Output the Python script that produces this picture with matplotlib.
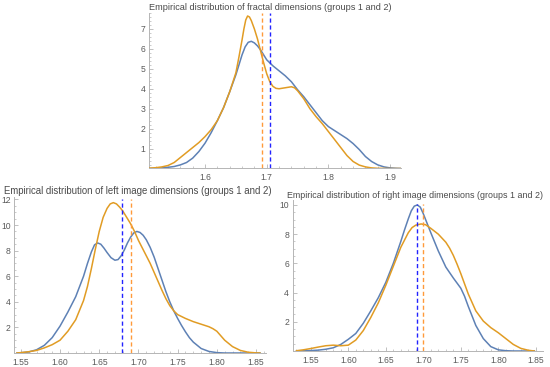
import matplotlib
matplotlib.use("Agg")
import matplotlib.pyplot as plt
from matplotlib.ticker import MultipleLocator, FixedLocator, FormatStrFormatter

plt.rcParams['font.family'] = ['Liberation Sans', 'DejaVu Sans']

# ---------------- data ----------------
# Top panel: fractal dimensions
top_x_blue = [1.51, 1.52, 1.53, 1.54, 1.55, 1.56, 1.57, 1.58, 1.59, 1.60, 1.61, 1.62, 1.63,
              1.64, 1.65, 1.655, 1.66, 1.665, 1.67, 1.675, 1.68, 1.685, 1.69, 1.695, 1.70,
              1.71, 1.72, 1.73, 1.74, 1.75, 1.76, 1.77, 1.78, 1.79, 1.80, 1.81, 1.82, 1.83,
              1.84, 1.85, 1.86, 1.87, 1.88, 1.89, 1.90, 1.91, 1.92]
top_blue = [0.0, 0.01, 0.03, 0.06, 0.1, 0.18, 0.3, 0.52, 0.85, 1.27, 1.8, 2.4, 3.05,
            3.85, 4.7, 5.2, 5.7, 6.1, 6.33, 6.38, 6.3, 6.15, 5.95, 5.7, 5.45,
            5.15, 4.9, 4.65, 4.35, 3.95, 3.6, 3.2, 2.8, 2.4, 2.1, 1.9, 1.7, 1.5,
            1.25, 0.95, 0.6, 0.35, 0.18, 0.08, 0.03, 0.01, 0.0]
top_x_orange = [1.51, 1.52, 1.53, 1.54, 1.55, 1.56, 1.57, 1.58, 1.59, 1.60, 1.61, 1.62, 1.63,
                1.64, 1.65, 1.655, 1.66, 1.663, 1.666, 1.669, 1.672, 1.675, 1.68, 1.685,
                1.69, 1.695, 1.70, 1.705, 1.71, 1.715, 1.72, 1.73, 1.74, 1.745, 1.75, 1.76,
                1.77, 1.78, 1.79, 1.80, 1.81, 1.82, 1.83, 1.84, 1.85, 1.86, 1.87, 1.88,
                1.90, 1.92]
top_orange = [0.02, 0.04, 0.08, 0.15, 0.3, 0.55, 0.8, 1.05, 1.3, 1.6, 1.95, 2.4, 3.05,
              3.85, 4.8, 5.6, 6.45, 7.0, 7.45, 7.65, 7.6, 7.42, 7.0, 6.5,
              5.9, 5.3, 4.75, 4.35, 4.12, 4.02, 4.0, 4.05, 4.1, 4.05, 3.9, 3.5,
              3.0, 2.6, 2.25, 1.85, 1.45, 1.05, 0.65, 0.35, 0.17, 0.08, 0.03, 0.01,
              0.0, 0.0]
top_mean_blue = 1.706
top_mean_orange = 1.692

# Bottom-left panel: left image dimensions
left_x_blue = [1.545, 1.55, 1.56, 1.57, 1.58, 1.59, 1.60, 1.61, 1.62, 1.63, 1.635, 1.64,
               1.644, 1.648, 1.652, 1.656, 1.66, 1.665, 1.67, 1.674, 1.678, 1.682, 1.686,
               1.69, 1.694, 1.698, 1.702, 1.706, 1.71, 1.715, 1.72, 1.725, 1.73, 1.735,
               1.74, 1.745, 1.75, 1.755, 1.76, 1.765, 1.77, 1.78, 1.79, 1.80, 1.81, 1.855]
left_blue = [0.0, 0.02, 0.08, 0.25, 0.6, 1.2, 2.1, 3.2, 4.4, 6.0, 7.0, 7.9,
             8.45, 8.6, 8.5, 8.2, 7.85, 7.45, 7.25, 7.3, 7.6, 8.05, 8.6,
             9.05, 9.38, 9.5, 9.42, 9.2, 8.85, 8.25, 7.5, 6.6, 5.7, 4.8,
             4.0, 3.3, 2.7, 2.15, 1.65, 1.2, 0.85, 0.35, 0.12, 0.03, 0.0, 0.0]
left_x_orange = [1.545, 1.55, 1.56, 1.57, 1.58, 1.59, 1.60, 1.61, 1.62, 1.63, 1.635, 1.64,
                 1.645, 1.65, 1.655, 1.66, 1.664, 1.668, 1.672, 1.676, 1.68, 1.685, 1.69,
                 1.695, 1.70, 1.705, 1.71, 1.715, 1.72, 1.725, 1.73, 1.735, 1.74, 1.745,
                 1.75, 1.76, 1.77, 1.78, 1.79, 1.795, 1.80, 1.805, 1.81, 1.82, 1.83, 1.84,
                 1.85, 1.855]
left_orange = [0.0, 0.03, 0.1, 0.2, 0.4, 0.65, 1.0, 1.7, 2.6, 4.1, 5.2, 6.6,
               8.1, 9.5, 10.6, 11.3, 11.65, 11.75, 11.65, 11.4, 11.1, 10.6, 10.1,
               9.5, 8.8, 8.2, 7.6, 7.0, 6.3, 5.6, 4.9, 4.25, 3.7, 3.3,
               3.0, 2.7, 2.45, 2.25, 2.05, 1.9, 1.7, 1.35, 1.0, 0.5, 0.2, 0.06,
               0.01, 0.0]
left_mean_blue = 1.679
left_mean_orange = 1.690

# Bottom-right panel: right image dimensions
right_x_blue = [1.531, 1.54, 1.55, 1.56, 1.57, 1.58, 1.59, 1.60, 1.61, 1.62, 1.63, 1.64,
                1.65, 1.66, 1.67, 1.675, 1.68, 1.684, 1.688, 1.692, 1.696, 1.70, 1.705,
                1.71, 1.72, 1.73, 1.74, 1.75, 1.755, 1.76, 1.77, 1.78, 1.79, 1.80, 1.81,
                1.82, 1.848]
right_blue = [0.0, 0.01, 0.03, 0.06, 0.12, 0.22, 0.45, 0.8, 1.2, 1.9, 2.75, 3.65,
              4.7, 6.0, 7.5, 8.3, 9.05, 9.6, 9.92, 10.0, 9.85, 9.4, 8.75,
              8.1, 6.85, 5.75, 5.0, 4.3, 3.75, 3.05, 1.75, 0.85, 0.3, 0.08, 0.02,
              0.0, 0.0]
right_x_orange = [1.531, 1.54, 1.55, 1.56, 1.57, 1.58, 1.59, 1.60, 1.61, 1.62, 1.63, 1.64,
                  1.65, 1.66, 1.67, 1.68, 1.685, 1.69, 1.697, 1.703, 1.71, 1.72, 1.73,
                  1.735, 1.74, 1.745, 1.75, 1.76, 1.77, 1.78, 1.79, 1.80, 1.81, 1.82,
                  1.83, 1.84, 1.848]
right_orange = [0.02, 0.08, 0.17, 0.27, 0.36, 0.4, 0.36, 0.4, 0.75, 1.4, 2.3, 3.3,
                4.5, 5.8, 7.1, 8.1, 8.45, 8.62, 8.7, 8.65, 8.4, 8.0, 7.45,
                7.05, 6.55, 5.95, 5.3, 3.9, 2.75, 2.05, 1.6, 1.25, 0.85, 0.45,
                0.18, 0.05, 0.0]
right_mean_blue = 1.692
right_mean_orange = 1.700

titles = ["Empirical distribution of fractal dimensions (groups 1 and 2)",
          "Empirical distribution of left image dimensions (groups 1 and 2)",
          "Empirical distribution of right image dimensions (groups 1 and 2)"]

# ---------------- styling ----------------
BLUE = '#5e81b5'
ORANGE = '#e19c24'
DASH_BLUE = '#2323ff'
DASH_ORANGE = '#ff9a3a'
AXIS = '#b5b5b5'
LABEL = '#5a5a5a'
TITLE = '#4a4a4a'

W, H = 550, 367
fig = plt.figure(figsize=(W / 100, H / 100), dpi=100)


def make_axes(left_px, right_px, top_px, bottom_px):
    return fig.add_axes([left_px / W, 1 - bottom_px / H,
                         (right_px - left_px) / W, (bottom_px - top_px) / H])


def style(ax, xlim, ylim, xmaj, xmin, ymin, yticks, xfmt):
    ax.set_xlim(*xlim)
    ax.set_ylim(*ylim)
    for s in ('top', 'right'):
        ax.spines[s].set_visible(False)
    for s in ('left', 'bottom'):
        ax.spines[s].set_color(AXIS)
        ax.spines[s].set_linewidth(0.7)
    ax.xaxis.set_major_locator(MultipleLocator(xmaj))
    ax.xaxis.set_minor_locator(MultipleLocator(xmin))
    ax.yaxis.set_major_locator(FixedLocator(yticks))
    ax.yaxis.set_minor_locator(MultipleLocator(ymin))
    ax.xaxis.set_major_formatter(FormatStrFormatter(xfmt))
    ax.tick_params(which='major', direction='in', length=3, width=0.6, color=AXIS,
                   labelsize=6.2, labelcolor=LABEL)
    ax.tick_params(axis='x', which='major', pad=3.5)
    ax.tick_params(axis='y', which='major', pad=2.5)
    ax.tick_params(which='minor', direction='in', length=1.5, width=0.5, color=AXIS)
    ax.set_facecolor('none')


def draw(ax, xb, yb, xo, yo, mb, mo, ytop):
    ax.plot(xb, yb, color=BLUE, lw=1.1, solid_joinstyle='round', zorder=3)
    ax.plot(xo, yo, color=ORANGE, lw=1.1, solid_joinstyle='round', zorder=3)
    ax.plot([mo, mo], [0, ytop], color=DASH_ORANGE, lw=1.0, ls=(0, (3, 2)), zorder=4)
    ax.plot([mb, mb], [0, ytop], color=DASH_BLUE, lw=1.0, ls=(0, (3, 2)), zorder=4)


# Top panel
ax1 = make_axes(149, 401, 13, 168.5)
style(ax1, (1.5092, 1.9176), (0, 7.8), 0.1, 0.02, 0.2, [1, 2, 3, 4, 5, 6, 7], '%.1f')
draw(ax1, top_x_blue, top_blue, top_x_orange, top_orange, top_mean_blue, top_mean_orange, 7.8)
fig.text(270.5 / W, 1 - 8 / H, titles[0], ha='center', va='center', fontsize=6.6, color=TITLE)

# Bottom-left panel
ax2 = make_axes(14, 266, 197, 353)
style(ax2, (1.5413, 1.8627), (0, 12.19), 0.05, 0.01, 0.5, [2, 4, 6, 8, 10, 12], '%.2f')
draw(ax2, left_x_blue, left_blue, left_x_orange, left_orange, left_mean_blue, left_mean_orange, 12.0)
fig.text(138 / W, 1 - 191 / H, titles[1], ha='center', va='center', fontsize=6.9, color=TITLE)

# Bottom-right panel
ax3 = make_axes(292.5, 543, 200, 351)
style(ax3, (1.5256, 1.8596), (0, 10.34), 0.05, 0.01, 0.5, [2, 4, 6, 8, 10], '%.2f')
draw(ax3, right_x_blue, right_blue, right_x_orange, right_orange, right_mean_blue, right_mean_orange, 10.1)
fig.text(415 / W, 1 - 195 / H, titles[2], ha='center', va='center', fontsize=6.4, color=TITLE)

fig.savefig('out.png', dpi=100, facecolor='white')
